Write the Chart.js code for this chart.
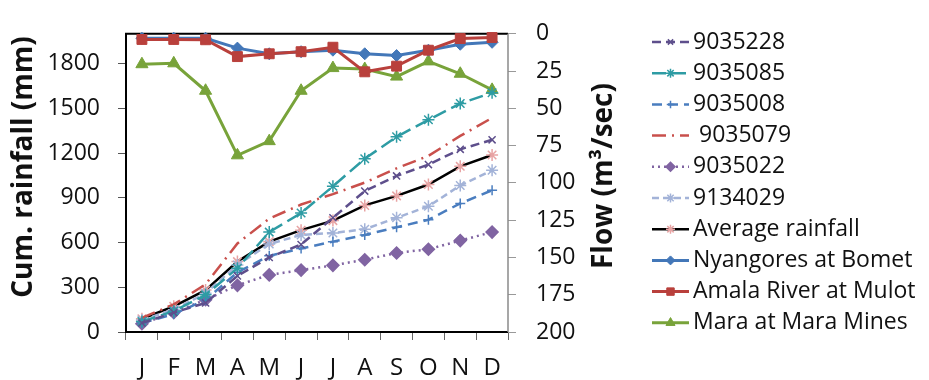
<!DOCTYPE html>
<html>
<head>
<meta charset="utf-8">
<script src="https://cdn.jsdelivr.net/npm/chart.js@4.4.1/dist/chart.umd.min.js"></script>
<style>
  html, body { margin: 0; padding: 0; background: #fff; }
  #wrap { width: 929px; height: 380px; }
</style>
</head>
<body>
<div id="wrap"><canvas id="rainChart" width="929" height="380"></canvas></div>
<script>
// Months and axis ticks
const months = ['J', 'F', 'M', 'A', 'M', 'J', 'J', 'A', 'S', 'O', 'N', 'D'];
const rainTicks = [0, 300, 600, 900, 1200, 1500, 1800];
const flowTicks = [0, 25, 50, 75, 100, 125, 150, 175, 200];

// Cumulative rainfall per station (mm)
const st9035228 = [60, 130, 195, 376, 500, 587, 766, 945, 1047, 1123, 1225, 1289];
const st9035085 = [70, 140, 249, 428, 670, 798, 977, 1162, 1309, 1423, 1532, 1605];
const st9035008 = [60, 120, 215, 400, 511, 560, 606, 651, 702, 753, 862, 951];
const st9035079 = [95, 185, 320, 594, 760, 855, 925, 1002, 1098, 1181, 1315, 1436];
const st9035022 = [55, 130, 217, 313, 383, 415, 447, 485, 530, 555, 613, 670];
const st9134029 = [80, 150, 260, 450, 590, 651, 664, 689, 766, 843, 983, 1085];
const avgRain   = [89, 172, 281, 472, 606, 683, 747, 849, 913, 989, 1111, 1187];

// River flow (m3/sec), plotted on the reversed right axis
const flowNyangores = [3, 3, 3, 9.6, 13.4, 12, 11, 13.4, 14.6, 11, 7, 5.7];
const flowAmala     = [3.8, 3.8, 4, 15.3, 13.4, 12, 9, 25.5, 21.7, 11, 3.2, 2.5];
const flowMara      = [20.4, 19.8, 38.2, 81.5, 72, 38.2, 23, 23.6, 28.7, 18.5, 26.8, 37.6];

const FONT = '"Open Sans", "Liberation Sans", sans-serif';

function rainSet(label, data, color, dash, style, radius, fill) {
    return {
        label: label,
        data: data,
        yAxisID: 'y',
        borderColor: color,
        borderWidth: 2.5,
        borderDash: dash,
        pointStyle: style,
        pointRadius: radius,
        pointBorderColor: color,
        pointBackgroundColor: fill || color,
        pointBorderWidth: 1.5,
        tension: 0,
        fill: false,
        order: 0
    };
}

function flowSet(label, data, color, style, radius, order) {
    return {
        label: label,
        data: data,
        yAxisID: 'y2',
        borderColor: color,
        borderWidth: 3,
        pointStyle: style,
        pointRadius: radius,
        pointBorderColor: color,
        pointBackgroundColor: color,
        pointBorderWidth: 1,
        tension: 0,
        fill: false,
        clip: false,
        order: order
    };
}

const datasets = [
    rainSet('9035228', st9035228, '#5e4f8c', [9, 5], 'crossRot', 5),
    rainSet('9035085', st9035085, '#2e9ca4', [14, 6], 'star', 6),
    rainSet('9035008', st9035008, '#4a7dbf', [10, 6], 'cross', 5),
    rainSet(' 9035079', st9035079, '#c9504c', [14, 6, 2, 6], 'circle', 0),
    rainSet('9035022', st9035022, '#8064a2', [2, 4], 'rectRot', 6),
    rainSet('9134029', st9134029, '#a3b3d8', [7, 4], 'star', 6),
    Object.assign(rainSet('Average rainfall', avgRain, '#000000', [], 'star', 6), {
        pointBorderColor: '#e8a4a4', pointBackgroundColor: '#e8a4a4'
    }),
    flowSet('Nyangores at Bomet', flowNyangores, '#4377b8', 'rectRot', 6, 2),
    flowSet('Amala River at Mulot', flowAmala, '#b9403c', 'rect', 7, 1),
    flowSet('Mara at Mara Mines', flowMara, '#78a33a', 'triangle', 7, 3)
];

// Plot frame, axis titles and the side legend
const decorPlugin = {
    id: 'decor',
    beforeDatasetsDraw(chart) {
        const { ctx, chartArea: a } = chart;
        ctx.save();
        ctx.strokeStyle = '#000';
        ctx.lineWidth = 2;
        ctx.beginPath();
        ctx.moveTo(a.right, a.top);
        ctx.lineTo(a.left, a.top);
        ctx.lineTo(a.left, a.bottom);
        ctx.lineTo(a.right, a.bottom);
        ctx.stroke();
        ctx.strokeStyle = '#8a8a8a';
        ctx.lineWidth = 1.5;
        ctx.beginPath();
        ctx.moveTo(a.right, a.top);
        ctx.lineTo(a.right, a.bottom);
        ctx.stroke();
        ctx.restore();
    },
    afterDraw(chart) {
        const ctx = chart.ctx;
        ctx.save();
        ctx.fillStyle = '#111';
        ctx.font = 'bold 28px ' + FONT;
        ctx.textAlign = 'center';
        ctx.textBaseline = 'middle';
        ctx.translate(24, 167);
        ctx.rotate(-Math.PI / 2);
        ctx.fillText('Cum. rainfall (mm)', 0, 0);
        ctx.restore();

        ctx.save();
        ctx.fillStyle = '#111';
        ctx.font = 'bold 28px ' + FONT;
        ctx.textAlign = 'center';
        ctx.textBaseline = 'middle';
        ctx.translate(604, 176);
        ctx.rotate(-Math.PI / 2);
        ctx.fillText('Flow (m\u00B3/sec)', 0, 0);
        ctx.restore();

        const x0 = 652, x1 = 689, tx = 693, y0 = 42, dy = 31.2;
        chart.data.datasets.forEach((ds, i) => {
            const y = y0 + i * dy;
            ctx.save();
            ctx.strokeStyle = ds.borderColor;
            ctx.lineWidth = ds.borderWidth;
            ctx.setLineDash(ds.borderDash || []);
            ctx.beginPath();
            ctx.moveTo(x0, y);
            ctx.lineTo(x1, y);
            ctx.stroke();
            ctx.setLineDash([]);
            if (ds.pointRadius > 0) {
                ctx.strokeStyle = ds.pointBorderColor;
                ctx.fillStyle = ds.pointBackgroundColor;
                ctx.lineWidth = ds.pointBorderWidth;
                Chart.helpers.drawPoint(ctx, {
                    pointStyle: ds.pointStyle,
                    radius: ds.pointRadius * 0.75,
                    rotation: 0,
                    borderWidth: ds.pointBorderWidth
                }, (x0 + x1) / 2, y);
            }
            ctx.fillStyle = '#111';
            ctx.font = '23px ' + FONT;
            ctx.textAlign = 'left';
            ctx.textBaseline = 'middle';
            ctx.fillText(ds.label, tx, y);
            ctx.restore();
        });
    }
};

const ctx = document.getElementById('rainChart').getContext('2d');
new Chart(ctx, {
    type: 'line',
    data: { labels: months, datasets: datasets },
    options: {
        responsive: false,
        animation: false,
        layout: { padding: { left: 0, right: 0, top: 18, bottom: 0 } },
        plugins: {
            legend: { display: false },
            tooltip: { enabled: false }
        },
        scales: {
            x: {
                offset: true,
                grid: { offset: true, drawOnChartArea: false, tickLength: 8, color: '#666' },
                border: { display: false },
                ticks: { color: '#111', font: { family: FONT, size: 24 }, padding: 14, maxRotation: 0, autoSkip: false },
                afterFit: s => { s.height = 48; }
            },
            y: {
                position: 'left',
                min: 0,
                max: 2000,
                afterBuildTicks: s => { s.ticks = rainTicks.map(v => ({ value: v })); },
                grid: { drawOnChartArea: false, tickLength: 8, color: '#555' },
                border: { display: false },
                ticks: { color: '#111', font: { family: FONT, size: 23 }, padding: 18, callback: v => String(v) },
                afterFit: s => { s.width = 126; }
            },
            y2: {
                position: 'right',
                reverse: true,
                min: 0,
                max: 200,
                afterBuildTicks: s => { s.ticks = flowTicks.map(v => ({ value: v })); },
                grid: { drawOnChartArea: false, tickLength: 8, color: '#999' },
                border: { display: false },
                ticks: { color: '#111', font: { family: FONT, size: 23 }, padding: 20, callback: v => String(v) },
                afterFit: s => { s.width = 421; }
            }
        }
    },
    plugins: [decorPlugin]
});
</script>
</body>
</html>
